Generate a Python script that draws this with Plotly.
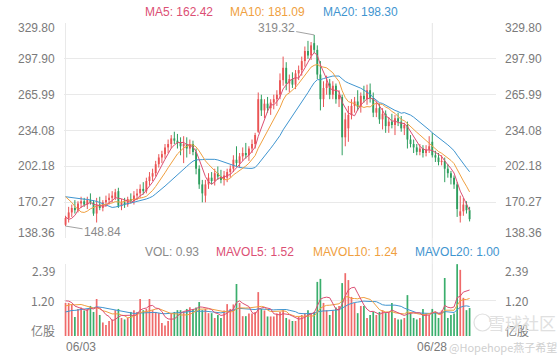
import plotly.graph_objects as go
import pandas as pd

# ---------------- data ----------------
x_tick_pos = [0, 118]
x_tick_text = ["06/03", "06/28"]
price_ticks = [138.36, 170.27, 202.18, 234.08, 265.99, 297.90, 329.80]
price_tick_text = ["138.36", "170.27", "202.18", "234.08", "265.99", "297.90", "329.80"]
vol_ticks = [0, 1.195, 2.39]
vol_tick_text = ["亿股", "1.20", "2.39"]
ma_labels = ["MA5: 162.42", "MA10: 181.09", "MA20: 198.30"]
vol_labels = ["VOL: 0.93", "MAVOL5: 1.52", "MAVOL10: 1.24", "MAVOL20: 1.00"]
high_idx, high_val = 80, 319.32
low_idx, low_val = 0, 148.84

opens = [150, 156, 161, 165, 163, 169, 171, 168, 172, 170,
         160, 168, 165, 170, 172, 174, 174, 180, 167, 170,
         168, 173, 171, 176, 178, 182, 180, 189, 193, 196,
         204, 210, 213, 219, 222, 227, 225, 223, 220, 222,
         218, 222, 215, 200, 186, 176, 186, 192, 189, 196,
         193, 190, 192, 197, 200, 208, 205, 211, 214, 212,
         218, 222, 233, 262, 252, 258, 254, 259, 262, 266,
         279, 290, 276, 280, 275, 285, 288, 296, 305, 301,
         312, 306, 284, 262, 272, 276, 266, 274, 262, 264,
         228, 236, 248, 256, 260, 255, 265, 262, 270, 263,
         250, 254, 244, 249, 238, 242, 239, 245, 242, 236,
         239, 226, 222, 219, 215, 218, 214, 217, 224, 212,
         210, 206, 207, 200, 196, 192, 186, 158, 162, 168,
         163]
highs = [158, 166, 168, 172, 171, 175, 174, 175, 178, 172,
         174, 175, 172, 176, 178, 180, 182, 183, 173, 174,
         175, 178, 180, 182, 186, 188, 192, 197, 200, 207,
         213, 216, 222, 226, 230, 233, 231, 228, 229, 228,
         226, 225, 218, 203, 190, 190, 196, 197, 200, 202,
         199, 198, 200, 203, 212, 220, 214, 219, 223, 220,
         226, 232, 268, 266, 262, 264, 262, 266, 270, 285,
         300, 295, 284, 286, 288, 292, 300, 309, 314, 313,
         319.32, 310, 296, 278, 283, 280, 278, 276, 270, 266,
         250, 256, 262, 264, 270, 268, 274, 275, 276, 268,
         260, 258, 254, 252, 246, 249, 248, 250, 247, 241,
         242, 230, 226, 222, 222, 221, 221, 229, 232, 216,
         214, 212, 210, 204, 198, 194, 188, 176, 174, 171,
         166]
lows = [148.84, 152, 157, 160, 161, 165, 166, 164, 168, 158,
        152, 163, 162, 166, 168, 170, 172, 165, 163, 165,
        166, 169, 168, 172, 174, 177, 178, 185, 189, 193,
        201, 205, 209, 214, 218, 222, 218, 212, 205, 210,
        213, 212, 195, 182, 170, 170, 182, 186, 185, 190,
        187, 185, 188, 192, 197, 202, 201, 207, 209, 207,
        214, 218, 232, 247, 245, 250, 248, 253, 256, 262,
        274, 270, 268, 272, 271, 279, 283, 291, 298, 297,
        303, 280, 252, 255, 266, 262, 262, 258, 255, 212,
        220, 224, 244, 250, 252, 250, 259, 257, 259, 246,
        246, 240, 235, 232, 232, 236, 230, 238, 233, 230,
        218, 219, 214, 212, 212, 210, 211, 214, 210, 206,
        203, 203, 188, 192, 186, 182, 157, 152, 158, 160,
        153]
closes = [156, 161, 165, 163, 169, 171, 168, 172, 170, 160,
          168, 165, 170, 172, 174, 176, 179, 167, 170, 168,
          173, 171, 176, 178, 182, 180, 189, 193, 196, 204,
          210, 213, 219, 222, 227, 225, 223, 220, 222, 218,
          222, 215, 200, 186, 178, 186, 192, 189, 196, 193,
          190, 194, 197, 200, 208, 205, 211, 214, 212, 218,
          222, 230, 262, 252, 258, 254, 259, 262, 266, 279,
          290, 276, 280, 275, 285, 288, 296, 305, 301, 310,
          306, 284, 262, 272, 276, 266, 274, 262, 266, 228,
          244, 248, 256, 260, 255, 265, 262, 270, 263, 250,
          254, 244, 249, 238, 242, 239, 245, 242, 236, 239,
          226, 222, 219, 215, 218, 214, 217, 220, 212, 210,
          206, 207, 200, 196, 192, 186, 164, 162, 168, 163,
          155]
volumes = [1.1, 1.1, 1.05, 0.63, 0.9, 0.95, 0.85, 0.9, 1.0, 0.8,
           1.23, 0.7, 0.45, 0.37, 0.5, 0.55, 0.86, 0.9, 0.6, 0.55,
           0.6, 0.8, 0.86, 0.8, 1.23, 0.86, 0.9, 1.23, 0.86, 0.8,
           0.76, 0.43, 0.35, 0.5, 0.76, 0.8, 0.86, 0.86, 0.8, 0.9,
           0.96, 0.9, 0.95, 1.13, 0.86, 0.9, 0.76, 0.76, 0.6, 0.7,
           0.6, 0.85, 1.06, 0.9, 1.05, 1.73, 1.1, 0.66, 0.66, 0.75,
           0.75, 0.8, 1.46, 0.9, 0.85, 0.65, 0.65, 0.65, 0.75, 0.8,
           0.86, 0.6, 0.55, 0.5, 0.5, 0.65, 0.7, 0.76, 0.86, 0.76,
           0.8, 1.8, 1.9, 1.1, 0.86, 0.7, 0.85, 0.95, 1.0, 1.76,
           2.09, 1.86, 1.3, 1.1, 0.76, 1.0, 1.0, 0.6, 0.7, 0.8,
           0.7, 0.8, 0.86, 0.76, 0.8, 1.1, 0.6, 0.55, 0.55, 0.6,
           1.36, 0.75, 0.6, 0.55, 0.6, 0.9, 0.75, 0.7, 0.9, 0.8,
           0.6, 0.85, 1.93, 0.6, 0.7, 0.75, 2.39, 2.2, 1.27, 0.86,
           0.93]
# sessions before the visible window (only used to seed moving averages)
prior_close = [170, 172, 176, 178, 174, 171, 175, 179, 178, 177,
               185, 192, 198, 196, 194, 172, 160, 150, 147]
prior_vol = [0.55, 0.62, 0.58, 0.66, 0.57, 0.6, 0.63, 0.59, 0.61, 0.59,
             0.78, 0.85, 0.8, 0.9, 0.82, 1.15, 1.3, 1.2, 1.1]

# ---------------- derived ----------------
n = len(closes)
idx = list(range(n))
npre = len(prior_close)
cs = pd.Series(prior_close + closes)
vs = pd.Series(prior_vol + volumes)
ma = {w: cs.rolling(w).mean().iloc[npre:].tolist() for w in (5, 10, 20)}
mav = {w: vs.rolling(w).mean().iloc[npre:].tolist() for w in (5, 10, 20)}

RED = "#ea5455"
GREEN = "#2e9e5e"
VRED = "#ef6a6a"
VGREEN = "#3aae6c"
C5 = "#dc4f74"
C10 = "#f0a040"
C20 = "#3f95d0"
GRID = "#e9e9e9"
LBL = "#7a7a7a"
FONT = "Liberation Sans, Arial, sans-serif"

W, H = 560, 360
X0, X1 = 64, 496
MT, MB = 23, 238
VT, VB = 264, 336


def px(xp):
    return xp / W


def py(yp):
    return 1 - yp / H


up = [c >= o for o, c in zip(opens, closes)]
ccolors = [RED if u else GREEN for u in up]
vcolors = [VRED if u else VGREEN for u in up]

fig = go.Figure()
# wicks
for flag, col in ((True, RED), (False, GREEN)):
    wx, wy = [], []
    for i in idx:
        if up[i] == flag:
            wx += [i, i, None]
            wy += [lows[i], highs[i], None]
    fig.add_trace(go.Scatter(x=wx, y=wy, mode="lines", line=dict(color=col, width=1),
                             showlegend=False, hoverinfo="skip", xaxis="x", yaxis="y"))
# bodies
fig.add_trace(go.Bar(x=idx, y=[max(abs(c - o), 0.7) for o, c in zip(opens, closes)],
                     base=[min(o, c) for o, c in zip(opens, closes)],
                     marker=dict(color=ccolors, line=dict(width=0)), width=0.6,
                     showlegend=False, hoverinfo="skip", xaxis="x", yaxis="y"))
for w, col in ((20, C20), (10, C10), (5, C5)):
    fig.add_trace(go.Scatter(x=idx, y=ma[w], mode="lines",
                             line=dict(color=col, width=1),
                             showlegend=False, hoverinfo="skip",
                             xaxis="x", yaxis="y"))
fig.add_trace(go.Bar(x=idx, y=volumes, marker=dict(color=vcolors, line=dict(width=0)),
                     width=0.55, showlegend=False, hoverinfo="skip",
                     xaxis="x2", yaxis="y2"))
for w, col in ((20, C20), (10, C10), (5, C5)):
    fig.add_trace(go.Scatter(x=idx, y=mav[w], mode="lines",
                             line=dict(color=col, width=1),
                             showlegend=False, hoverinfo="skip",
                             xaxis="x2", yaxis="y2"))

xr = [-0.5, 138.5]
axis_common = dict(showticklabels=False, ticks="", zeroline=False,
                   showgrid=True, gridcolor=GRID, gridwidth=1, showline=False)
fig.update_layout(
    width=W, height=H, autosize=False,
    margin=dict(l=0, r=0, t=0, b=0),
    paper_bgcolor="white", plot_bgcolor="white",
    font=dict(family=FONT, size=12, color=LBL),
    showlegend=False,
    xaxis=dict(domain=[px(X0), px(X1)], range=xr, tickvals=x_tick_pos,
               anchor="y", **axis_common),
    xaxis2=dict(domain=[px(X0), px(X1)], range=xr, tickvals=x_tick_pos,
                matches="x", anchor="y2", **axis_common),
    yaxis=dict(domain=[py(MB), py(MT)], range=[138.2, 329.96],
               tickvals=price_ticks, anchor="x", **axis_common),
    yaxis2=dict(domain=[py(VB), py(VT)], range=[0, 2.395],
                tickvals=vol_ticks[1:], anchor="x2", **axis_common),
)

# continuous 06/28 divider through both panels
fig.add_shape(type="line", xref="x", yref="paper", x0=x_tick_pos[1], x1=x_tick_pos[1],
              y0=py(VB), y1=py(MT), line=dict(color=GRID, width=1), layer="below")

ann = []
# price tick labels (left and right)
for i, (v, t) in enumerate(zip(price_ticks, price_tick_text)):
    ys = 5 if i == 0 else (-5 if i == len(price_ticks) - 1 else 0)
    for xx, anc in ((57, "right"), (503, "left")):
        ann.append(dict(x=px(xx), xref="paper", y=v, yref="y", text=t, showarrow=False,
                        xanchor=anc, yanchor="middle", yshift=ys,
                        font=dict(size=12, color=LBL)))
# volume tick labels
for i, (v, t) in enumerate(zip(vol_ticks, vol_tick_text)):
    ys = 6 if i == 0 else (-6 if i == len(vol_ticks) - 1 else 0)
    for xx, anc in ((57, "right"), (503, "left")):
        ann.append(dict(x=px(xx), xref="paper", y=v, yref="y2", text=t, showarrow=False,
                        xanchor=anc, yanchor="middle", yshift=ys,
                        font=dict(size=12, color=LBL,
                                  family="Noto Sans CJK SC, " + FONT)))
# date labels
ann.append(dict(x=-0.5, xref="x2", y=py(347), yref="paper", text=x_tick_text[0],
                showarrow=False, xanchor="left", yanchor="middle",
                font=dict(size=12, color=LBL)))
ann.append(dict(x=x_tick_pos[1], xref="x2", y=py(347), yref="paper", text=x_tick_text[1],
                showarrow=False, xanchor="center", yanchor="middle",
                font=dict(size=12, color=LBL)))
# MA legends
for xx, t, col in zip((143, 228, 321), ma_labels, (C5, C10, C20)):
    ann.append(dict(x=px(xx), xref="paper", y=py(12), yref="paper", text=t,
                    showarrow=False, xanchor="left", yanchor="middle",
                    font=dict(size=12, color=col)))
for xx, t, col in zip((143, 214, 311, 413), vol_labels, ("#8a8a8a", C5, C10, C20)):
    ann.append(dict(x=px(xx), xref="paper", y=py(252), yref="paper", text=t,
                    showarrow=False, xanchor="left", yanchor="middle",
                    font=dict(size=12, color=col)))
# high / low markers
ann.append(dict(x=high_idx, xref="x", y=high_val, yref="y", text=f"{high_val:.2f}",
                showarrow=True, arrowhead=0, arrowwidth=0.8, arrowcolor="#8a8a8a",
                ax=-38, ay=-7, font=dict(size=12, color="#8a8a8a")))
ann.append(dict(x=low_idx, xref="x", y=low_val, yref="y", text=f"{low_val:.2f}",
                showarrow=True, arrowhead=0, arrowwidth=0.8, arrowcolor="#8a8a8a",
                ax=37, ay=6, font=dict(size=12, color="#8a8a8a")))
# watermark
ann.append(dict(x=px(522), xref="paper", y=py(322), yref="paper", text="雪球社区",
                showarrow=False, xanchor="center", yanchor="middle",
                font=dict(size=17, color="#e0e0e0", family="Noto Sans CJK SC")))
ann.append(dict(x=px(503), xref="paper", y=py(347), yref="paper", text="@Hopehope燕子希望",
                showarrow=False, xanchor="center", yanchor="middle",
                font=dict(size=11, color="#cfcfcf", family="Noto Sans CJK SC")))
fig.add_shape(type="circle", xref="paper", yref="paper",
              x0=px(474), x1=px(491), y0=py(331), y1=py(314),
              line=dict(color="#e0e0e0", width=1.2))
fig.update_layout(annotations=ann)

fig.write_html("out.html", config={"displayModeBar": False, "staticPlot": True},
               post_script="document.body.style.margin='0';document.body.style.padding='0';")
